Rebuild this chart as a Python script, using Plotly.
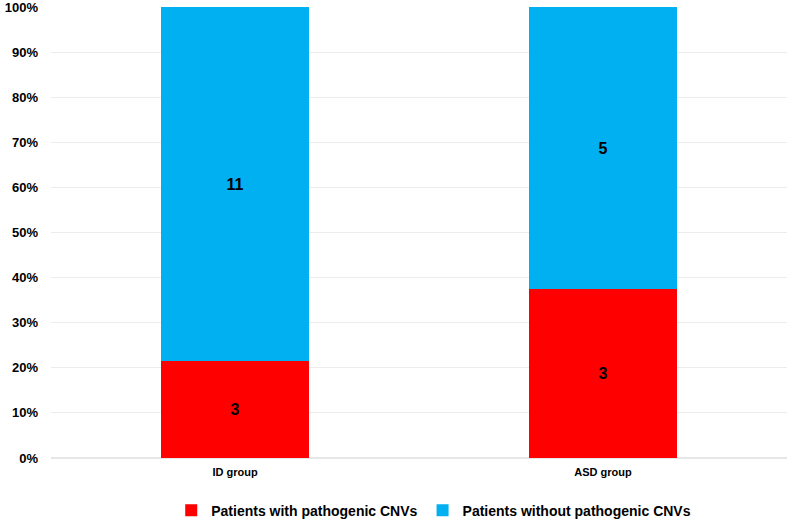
import plotly.graph_objects as go

categories = ["ID group", "ASD group"]
with_cnv = [3, 3]
without_cnv = [11, 5]
series_names = ["Patients with pathogenic CNVs", "Patients without pathogenic CNVs"]
colors = ["#ff0000", "#00b0f0"]
tick_values = [0, 0.1, 0.2, 0.3, 0.4, 0.5, 0.6, 0.7, 0.8, 0.9, 1.0]
tick_labels = ["0%", "10%", "20%", "30%", "40%", "50%", "60%", "70%", "80%", "90%", "100%"]

font = "Liberation Sans, Arial, sans-serif"

fig = go.Figure()
for name, vals, col in zip(series_names, [with_cnv, without_cnv], colors):
    fig.add_trace(go.Bar(
        x=categories, y=vals, name=name, marker=dict(color=col, line=dict(width=0)),
        text=[str(v) for v in vals], textposition="inside", insidetextanchor="middle",
        textfont=dict(family=font, size=16, color="black", weight="bold"),
        width=0.4,
    ))

fig.update_layout(
    barmode="stack", barnorm="fraction",
    width=791, height=520,
    margin=dict(l=51, r=4, t=7, b=62),
    plot_bgcolor="white", paper_bgcolor="white",
    font=dict(family=font, size=12, color="black"),
    legend=dict(orientation="h", x=0.52, xanchor="center", yref="container",
                y=0.018, yanchor="middle",
                font=dict(family=font, size=14, weight="bold"),
                traceorder="normal"),
    uniformtext=dict(mode="show", minsize=10),
)
fig.update_yaxes(range=[0, 1.0005], tickvals=tick_values, ticktext=tick_labels, showgrid=True,
                 gridcolor="#ececec", gridwidth=1, zeroline=True, zerolinecolor="#e6e6e6",
                 tickfont=dict(family=font, size=13, weight="bold"), ticks="",
                 ticklabelstandoff=12, automargin=False, ticklabeloverflow="allow")
fig.update_xaxes(showline=False, tickfont=dict(family=font, size=11, weight="bold"), ticks="",
                 ticklabelstandoff=6, automargin=False)

fig.write_html("out.html", config={"displayModeBar": False},
               post_script="document.body.style.margin='0';")
